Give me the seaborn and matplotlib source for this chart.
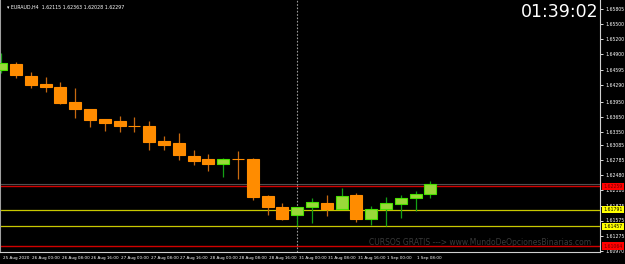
import matplotlib
matplotlib.use("Agg")
import matplotlib.pyplot as plt
import matplotlib.transforms as mtransforms
import seaborn as sns
import numpy as np
import pandas as pd

# ---------------- data ----------------
opens  = [1.64585, 1.64705, 1.64465, 1.64305, 1.64245, 1.63945, 1.63805, 1.63605, 1.63565, 1.63465,
          1.63465, 1.63165, 1.63125, 1.62865, 1.62805, 1.62705, 1.62805, 1.62805, 1.62065, 1.61845,
          1.61685, 1.61845, 1.61925, 1.61805, 1.62085, 1.61605, 1.61805, 1.61905, 1.62025, 1.62105]
highs  = [1.64925, 1.64745, 1.64545, 1.64445, 1.64345, 1.64225, 1.63805, 1.63605, 1.63665, 1.63645,
          1.63565, 1.63265, 1.63325, 1.62985, 1.62905, 1.62825, 1.62965, 1.62825, 1.62085, 1.61925,
          1.61845, 1.62025, 1.62085, 1.62225, 1.62125, 1.61865, 1.62045, 1.62085, 1.62165, 1.62365]
lows   = [1.64525, 1.64425, 1.64225, 1.64145, 1.63915, 1.63625, 1.63445, 1.63365, 1.63345, 1.63345,
          1.62985, 1.62985, 1.62785, 1.62685, 1.62565, 1.62445, 1.62405, 1.61985, 1.61685, 1.61585,
          1.61465, 1.61525, 1.61665, 1.61805, 1.61545, 1.61485, 1.61465, 1.61625, 1.61765, 1.62025]
closes = [1.64725, 1.64485, 1.64285, 1.64245, 1.63925, 1.63805, 1.63585, 1.63525, 1.63465, 1.63460,
          1.63145, 1.63085, 1.62885, 1.62765, 1.62705, 1.62805, 1.62800, 1.62045, 1.61845, 1.61605,
          1.61845, 1.61945, 1.61805, 1.62065, 1.61605, 1.61805, 1.61925, 1.62025, 1.62105, 1.62305]

time_labels = ["25 Aug 2020", "26 Aug 00:00", "26 Aug 08:00", "26 Aug 16:00", "27 Aug 00:00",
               "27 Aug 08:00", "27 Aug 16:00", "28 Aug 00:00", "28 Aug 08:00", "28 Aug 16:00",
               "31 Aug 00:00", "31 Aug 08:00", "31 Aug 16:00", "1 Sep 00:00", "1 Sep 08:00"]
time_label_idx = [0, 2, 4, 6, 8, 10, 12, 14, 16, 18, 20, 22, 24, 26, 28]

price_ticks = [1.65805, 1.65500, 1.65200, 1.64900, 1.64595, 1.64290, 1.63950, 1.63650, 1.63350,
               1.63085, 1.62785, 1.62480, 1.62180, 1.61875, 1.61575, 1.61275, 1.60970]

red_levels = [1.62259, 1.61064]
yellow_levels = [1.61791, 1.61457]
bid_price = 1.62305
separator_idx = 20

header = "EURAUD,H4  1.62115 1.62363 1.62028 1.62297"
clock = "01:39:02"
watermark = "CURSOS GRATIS ---> www.MundoDeOpcionesBinarias.com"

# ---------------- style ----------------
sns.set_theme(style="dark")
plt.rcParams['font.family'] = ['DejaVu Sans']

df = pd.DataFrame({"o": opens, "h": highs, "l": lows, "c": closes})
df["i"] = np.arange(len(df))
df["bull"] = df["c"] >= df["o"]

W, H = 625, 264
fig = plt.figure(figsize=(W / 100, H / 100), dpi=100, facecolor="black")
ax = fig.add_axes([0, (H - 252) / H, 600 / W, 252 / H])
ax.set_facecolor("black")

ymin, ymax = 1.60945, 1.65985
ax.set_ylim(ymin, ymax)
ax.set_xlim(-0.081, 40.46)

# horizontal lines
for lv in red_levels:
    ax.axhline(lv, color="#d00000", lw=1.0, zorder=1)
for lv in yellow_levels:
    ax.axhline(lv, color="#c8c800", lw=0.9, zorder=1)
ax.axhline(bid_price, color="#505050", lw=0.8, zorder=1)
ax.axvline(separator_idx, color="#9a9a9a", lw=0.8, ls=(0, (1.5, 1.5)), zorder=1)

# candles
bull_fill, bull_edge, bull_wick = "#9ad83a", "#48e000", "#14a014"
bear_fill, bear_edge, bear_wick = "#ff8c00", "#ff8c00", "#c86a10"
for _, r in df.iterrows():
    wc = bull_wick if r["bull"] else bear_wick
    ax.vlines(r["i"], r["l"], r["h"], color=wc, lw=0.9, zorder=2)
for bull, fill, edge in [(True, bull_fill, bull_edge), (False, bear_fill, bear_edge)]:
    sub = df[df["bull"] == bull]
    bottoms = np.minimum(sub["o"], sub["c"])
    heights = np.maximum(np.abs(sub["c"] - sub["o"]), 0.00001)
    ax.bar(sub["i"], heights, bottom=bottoms, width=0.8, color=fill,
           edgecolor=edge, linewidth=0.8, zorder=3)

# axes styling
ax.spines["top"].set_visible(False)
ax.spines["left"].set_color("#a0a0a0")
ax.spines["left"].set_linewidth(1.5)
ax.spines["right"].set_color("#d0d0d0")
ax.spines["bottom"].set_color("#d0d0d0")
ax.spines["right"].set_linewidth(0.8)
ax.spines["bottom"].set_linewidth(0.8)
ax.grid(False)

FS = 3.3
ax.yaxis.tick_right()
ax.set_yticks(price_ticks)
ax.set_yticklabels([f"{p:.5f}" for p in price_ticks])
ax.tick_params(axis="y", colors="white", labelsize=FS, length=2.5, width=0.6, pad=1.2,
               direction="out")
ax.set_xticks(time_label_idx)
ax.set_xticklabels(time_labels)
ax.tick_params(axis="x", colors="white", labelsize=3.0, length=2, width=0.6, pad=1.2,
               direction="out")
offset = mtransforms.ScaledTranslation(1.5 / 100, 0, fig.dpi_scale_trans)
for lab in ax.get_xticklabels():
    lab.set_horizontalalignment("left")
    lab.set_transform(lab.get_transform() + offset)

# price label boxes
trans = mtransforms.blended_transform_factory(ax.transAxes, ax.transData)
for lv in red_levels:
    ax.text(1.006, lv, f"{lv:.5f}", transform=trans, fontsize=FS, color="#700000",
            va="center", ha="left", zorder=5, clip_on=False,
            bbox=dict(boxstyle="square,pad=0.25", fc="#ff0000", ec="none"))
for lv in yellow_levels:
    ax.text(1.006, lv, f"{lv:.5f}", transform=trans, fontsize=FS, color="black",
            va="center", ha="left", zorder=5, clip_on=False,
            bbox=dict(boxstyle="square,pad=0.25", fc="#ffff00", ec="none"))

# header, clock, watermark
ax.text(0.012, 0.982, "▾ " + header, transform=ax.transAxes, fontsize=3.4, color="white",
        va="top", ha="left")
ax.text(0.997, 0.99, clock, transform=ax.transAxes, fontsize=12.5, color="white",
        va="top", ha="right")
ax.text(0.985, 0.02, watermark, transform=ax.transAxes, fontsize=5.5, color="#3a3a3a",
        va="bottom", ha="right", zorder=0)

fig.savefig("out.png", dpi=100, facecolor="black")
